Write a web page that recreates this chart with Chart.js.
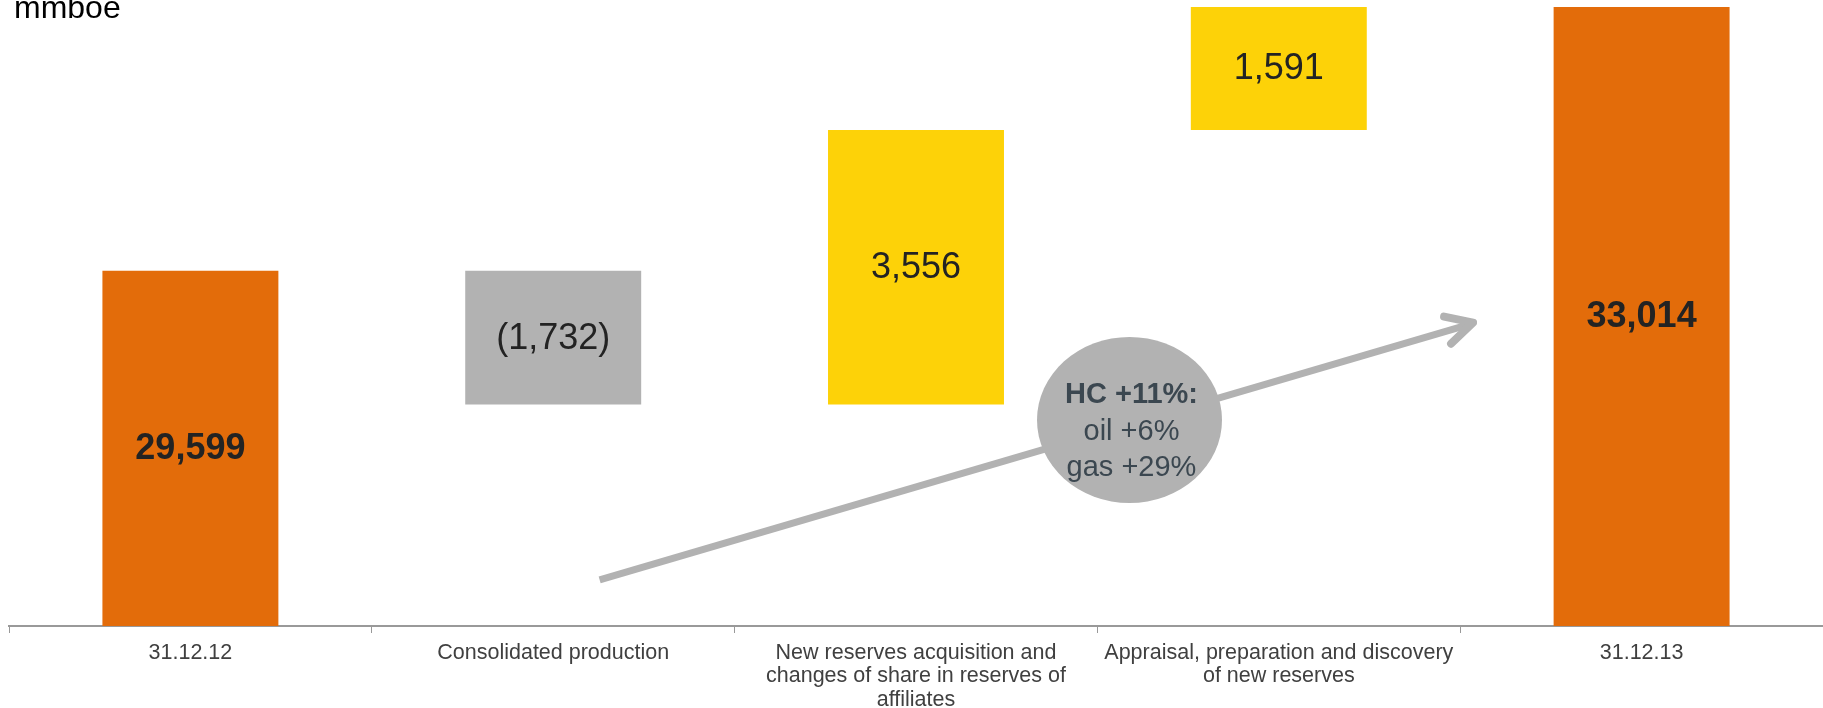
<!DOCTYPE html>
<html>
<head>
<meta charset="utf-8">
<style>
  html, body { margin: 0; padding: 0; background: #ffffff; }
  #wrap { width: 1823px; height: 708px; position: relative; }
</style>
<script src="https://cdn.jsdelivr.net/npm/chart.js@4.4.1/dist/chart.umd.min.js"></script>
</head>
<body>
<div id="wrap"><canvas id="c" width="1823" height="708"></canvas></div>
<script>
// ---- Data ----
const categories = [
  '31.12.12',
  'Consolidated production',
  ['New reserves acquisition and', 'changes of share in reserves of', 'affiliates'],
  ['Appraisal, preparation and discovery', 'of new reserves'],
  '31.12.13'
];
const openingValue = 29599;
const changeValues = [-1732, 3556, 1591];
const closingValue = 33014;
const unitLabel = 'mmboe';
const axisMin = 25000;
const annotationLines = ['HC +11%:', 'oil +6%', 'gas +29%'];

// ---- Build floating bars ----
const ranges = [];
const kinds = [];
ranges.push([axisMin, openingValue]); kinds.push('total');
let running = openingValue;
changeValues.forEach(v => {
  const next = running + v;
  ranges.push([Math.min(running, next), Math.max(running, next)]);
  kinds.push(v < 0 ? 'neg' : 'pos');
  running = next;
});
ranges.push([axisMin, closingValue]); kinds.push('total');
const barValues = [openingValue, ...changeValues, closingValue];

const colorMap = { total: '#E36C0A', neg: '#B2B2B2', pos: '#FDD208' };
const FONT = '"Liberation Sans", Arial, Helvetica, sans-serif';

function fmt(v) {
  const s = Math.abs(v).toLocaleString('en-US');
  return v < 0 ? '(' + s + ')' : s;
}

const overlayPlugin = {
  id: 'overlay',
  beforeDatasetsDraw(chart) {
    const ctx = chart.ctx;
    ctx.save();
    ctx.fillStyle = '#000000';
    ctx.font = '32px ' + FONT;
    ctx.textAlign = 'left';
    ctx.textBaseline = 'alphabetic';
    ctx.fillText(unitLabel, 14, 18);
    ctx.restore();
  },
  afterDatasetsDraw(chart) {
    const ctx = chart.ctx;
    const meta = chart.getDatasetMeta(0);
    // value labels
    ctx.save();
    ctx.textAlign = 'center';
    ctx.textBaseline = 'middle';
    ctx.fillStyle = '#232323';
    meta.data.forEach((bar, i) => {
      const bold = kinds[i] === 'total';
      ctx.font = (bold ? 'bold ' : '') + '36px ' + FONT;
      const yc = (bar.y + bar.base) / 2;
      ctx.fillText(fmt(barValues[i]), bar.x, yc + 1);
    });
    ctx.restore();

    // arrow (trend annotation) in data coordinates
    const xs = chart.scales.x, ys = chart.scales.y;
    const catPx = (f) => {
      const p0 = xs.getPixelForValue(0), p1 = xs.getPixelForValue(1);
      return p0 + f * (p1 - p0);
    };
    const sx = catPx(1.128), sy = ys.getPixelForValue(25596);
    const tx = catPx(3.541), ty = ys.getPixelForValue(28927);
    ctx.save();
    ctx.strokeStyle = '#B2B2B2';
    ctx.lineWidth = 7;
    ctx.lineCap = 'butt';
    ctx.beginPath();
    ctx.moveTo(sx, sy);
    ctx.lineTo(tx - 3, ty + 1);
    ctx.stroke();
    ctx.lineCap = 'round';
    ctx.lineJoin = 'round';
    ctx.lineWidth = 8;
    ctx.beginPath();
    ctx.moveTo(tx - 31, ty - 6);
    ctx.lineTo(tx - 2, ty);
    ctx.lineTo(tx - 24, ty + 21);
    ctx.stroke();
    ctx.restore();

    // ellipse callout
    const ex = catPx(2.5885), ey = ys.getPixelForValue(27667);
    ctx.save();
    ctx.fillStyle = '#B2B2B2';
    ctx.beginPath();
    ctx.ellipse(ex, ey, 92.5, 83, 0, 0, Math.PI * 2);
    ctx.fill();
    ctx.fillStyle = '#3B4750';
    ctx.textAlign = 'center';
    ctx.textBaseline = 'alphabetic';
    const lh = 36.5;
    annotationLines.forEach((t, i) => {
      ctx.font = (i === 0 ? 'bold ' : '') + '29px ' + FONT;
      ctx.fillText(t, ex + 2, ey - 17 + i * lh);
    });
    ctx.restore();
  }
};

new Chart(document.getElementById('c'), {
  type: 'bar',
  data: {
    labels: categories,
    datasets: [{
      data: ranges,
      backgroundColor: kinds.map(k => colorMap[k]),
      borderWidth: 0,
      borderSkipped: false,
      barPercentage: 1,
      categoryPercentage: 0.485
    }]
  },
  options: {
    responsive: false,
    animation: false,
    devicePixelRatio: 1,
    layout: { padding: { top: 7, left: 9, right: 0, bottom: 0 } },
    plugins: {
      legend: { display: false },
      tooltip: { enabled: false },
      title: { display: false }
    },
    scales: {
      x: {
        grid: {
          display: true,
          drawOnChartArea: false,
          drawTicks: true,
          tickLength: 7,
          color: '#999999',
          lineWidth: 1,
          offset: true
        },
        border: { display: true, color: '#999999', width: 2 },
        ticks: {
          color: '#404040',
          font: { family: FONT, size: 21.5, lineHeight: 1.1 },
          padding: 8,
          maxRotation: 0,
          autoSkip: false
        },
        afterFit(scale) { scale.height = 82; }
      },
      y: {
        display: false,
        min: axisMin,
        max: closingValue,
        grid: { display: false }
      }
    }
  },
  plugins: [overlayPlugin]
});
</script>
</body>
</html>
